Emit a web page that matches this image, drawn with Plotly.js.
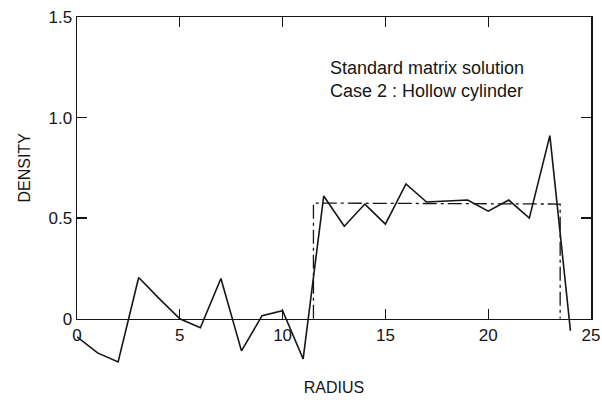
<!DOCTYPE html>
<html>
<head>
<meta charset="utf-8">
<script src="https://cdn.plot.ly/plotly-3.0.1.min.js"></script>
<style>html,body{margin:0;padding:0;background:#fff;}#chart{width:602px;height:405px;}</style>
</head>
<body>
<div id="chart"></div>
<script>
// Reconstructed density (solid) at integer radii
const radius = [0,1,2,3,4,5,6,7,8,9,10,11,12,13,14,15,16,17,18,19,20,21,22,23,24];
const density = [-0.09,-0.17,-0.215,0.205,0.10,0.0,-0.045,0.20,-0.16,0.015,0.04,-0.20,0.61,0.46,0.57,0.47,0.67,0.58,0.585,0.59,0.535,0.59,0.50,0.91,-0.06];
// True (model) density: hollow cylinder profile (dashed)
const trueRadius = [11.5,11.5,23.5,23.5];
const trueDensity = [0,0.575,0.57,0];
// Ticks
const xTicks = [0,5,10,15,20,25];
const xTickText = ['0','5','10','15','20','25'];
const yTicks = [0,0.5,1.0,1.5];
const yTickText = ['0','0.5','1.0','1.5'];
const noteLines = ['Standard matrix solution','Case 2 : Hollow cylinder'];

const ink = '#151515';
const font = 'Liberation Sans, Arial, Helvetica, sans-serif';
const yMin = -0.25, yMax = 1.5;
const zeroFrac = (0 - yMin) / (yMax - yMin);

const traces = [
  {x: radius, y: density, xaxis:'x', yaxis:'y', type:'scatter', mode:'lines',
   line:{color:ink, width:1.6}, hoverinfo:'skip', showlegend:false},
  {x: trueRadius, y: trueDensity, xaxis:'x', yaxis:'y2', type:'scatter', mode:'lines',
   line:{color:ink, width:1.3, dash:'14px,4px,3px,4px'}, hoverinfo:'skip', showlegend:false}
];

const layout = {
  width: 602, height: 405,
  margin: {l:77, r:11, t:17, b:36.25},
  paper_bgcolor:'#fff', plot_bgcolor:'rgba(0,0,0,0)',
  font:{family:font, color:ink, size:17},
  showlegend:false,
  xaxis: {
    range:[0,25], anchor:'y2', tickmode:'array', tickvals:xTicks, ticktext:xTickText,
    ticks:'inside', ticklen:10, tickwidth:1.3, tickcolor:ink,
    showline:true, linecolor:ink, linewidth:1.5, mirror:'ticks',
    showgrid:false, zeroline:false,
    tickfont:{size:17, family:font, color:ink},
    title:{text:'RADIUS', font:{size:16, family:font, color:ink}, standoff:38}
  },
  yaxis: {
    range:[yMin, yMax], domain:[0,1], anchor:'x', visible:false,
    showgrid:false, zeroline:false
  },
  yaxis2: {
    range:[0, yMax], domain:[zeroFrac,1], anchor:'x', tickmode:'array',
    tickvals:yTicks, ticktext:yTickText,
    ticks:'inside', ticklen:10, tickwidth:1.3, tickcolor:ink,
    showline:true, linecolor:ink, linewidth:1.5, mirror:'ticks',
    showgrid:false, zeroline:false,
    tickfont:{size:17, family:font, color:ink},
    title:{text:'DENSITY', font:{size:16, family:font, color:ink}, standoff:14}
  },
  annotations: [{
    xref:'x', yref:'y2', x:12.2, y:1.19, xanchor:'left', yanchor:'middle',
    align:'left', showarrow:false, text: noteLines.join('<br>'),
    font:{size:18, family:font, color:ink}
  }]
};

Plotly.newPlot('chart', traces, layout, {staticPlot:true, displayModeBar:false});
</script>
</body>
</html>
